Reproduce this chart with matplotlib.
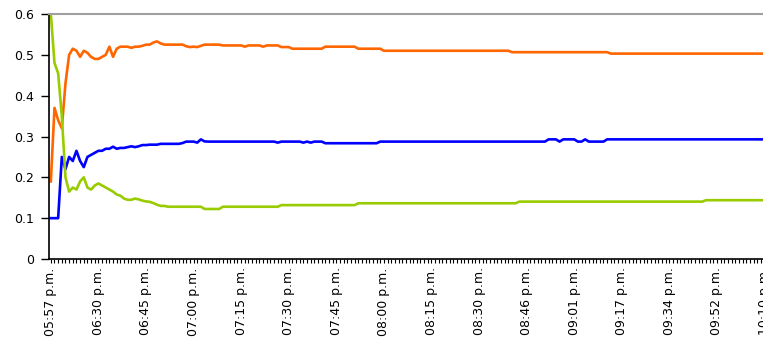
import matplotlib
matplotlib.use("Agg")
import matplotlib.pyplot as plt

# x labels, one every 13 readings
etiquetas = ["05:57 p.m.", "06:30 p.m.", "06:45 p.m.", "07:00 p.m.", "07:15 p.m.",
             "07:30 p.m.", "07:45 p.m.", "08:00 p.m.", "08:15 p.m.", "08:30 p.m.",
             "08:46 p.m.", "09:01 p.m.", "09:17 p.m.", "09:34 p.m.", "09:52 p.m.",
             "10:10 p.m."]
paso = 13

# serie naranja
naranja = [
    0.19, 0.37, 0.34, 0.32, 0.43, 0.50, 0.515, 0.51, 0.495, 0.51, 0.505, 0.495, 0.49,
    0.49, 0.495, 0.50, 0.52, 0.495, 0.515, 0.52, 0.52, 0.52, 0.517, 0.52, 0.52, 0.522,
    0.525, 0.525, 0.53, 0.533, 0.528, 0.525, 0.525, 0.525, 0.525, 0.525, 0.525, 0.521, 0.519,
    0.52, 0.519, 0.522, 0.525, 0.525, 0.525, 0.525, 0.525, 0.523, 0.523, 0.523, 0.523, 0.523,
    0.523, 0.520, 0.523, 0.523, 0.523, 0.523, 0.520, 0.523, 0.523, 0.523, 0.523, 0.519, 0.519,
    0.519, 0.515, 0.515, 0.515, 0.515, 0.515, 0.515, 0.515, 0.515, 0.515, 0.52, 0.52, 0.52,
    0.52, 0.52, 0.52, 0.52, 0.52, 0.52, 0.515, 0.515, 0.515, 0.515, 0.515, 0.515, 0.515,
    0.51, 0.51, 0.51, 0.51, 0.51, 0.51, 0.51, 0.51, 0.51, 0.51, 0.51, 0.51, 0.51,
    0.51, 0.51, 0.51, 0.51, 0.51, 0.51, 0.51, 0.51, 0.51, 0.51, 0.51, 0.51, 0.51,
    0.51, 0.51, 0.51, 0.51, 0.51, 0.51, 0.51, 0.51, 0.51, 0.5065, 0.5065, 0.5065, 0.5065,
    0.5065, 0.5065, 0.5065, 0.5065, 0.5065, 0.5065, 0.5065, 0.5065, 0.5065, 0.5065, 0.5065, 0.5065, 0.5065,
    0.5065, 0.5065, 0.5065, 0.5065, 0.5065, 0.5065, 0.5065, 0.5065, 0.5065, 0.5065, 0.503, 0.503, 0.503,
    0.503, 0.503, 0.503, 0.503, 0.503, 0.503, 0.503, 0.503, 0.503, 0.503, 0.503, 0.503, 0.503,
    0.503, 0.503, 0.503, 0.503, 0.503, 0.503, 0.503, 0.503, 0.503, 0.503, 0.503, 0.503, 0.503,
    0.503, 0.503, 0.503, 0.503, 0.503, 0.503, 0.503, 0.503, 0.503, 0.503, 0.503, 0.503, 0.503,
    0.503, 0.503, 0.503, 0.503, 0.503,
]

# serie azul
azul = [
    0.10, 0.10, 0.10, 0.25, 0.22, 0.25, 0.24, 0.265, 0.24, 0.225, 0.25, 0.255, 0.26,
    0.265, 0.265, 0.27, 0.27, 0.275, 0.27, 0.272, 0.272, 0.274, 0.276, 0.274, 0.276, 0.279,
    0.279, 0.28, 0.28, 0.28, 0.282, 0.282, 0.282, 0.282, 0.282, 0.282, 0.284, 0.2875, 0.2875,
    0.2875, 0.285, 0.293, 0.288, 0.2875, 0.2875, 0.2875, 0.2875, 0.2875, 0.2875, 0.2875, 0.2875, 0.2875,
    0.2875, 0.2875, 0.2875, 0.2875, 0.2875, 0.2875, 0.2875, 0.2875, 0.2875, 0.2875, 0.285, 0.2875, 0.2875,
    0.2875, 0.2875, 0.2875, 0.2875, 0.285, 0.2875, 0.285, 0.2875, 0.2875, 0.2875, 0.2835, 0.2835, 0.2835,
    0.2835, 0.2835, 0.2835, 0.2835, 0.2835, 0.2835, 0.2835, 0.2835, 0.2835, 0.2835, 0.2835, 0.2835, 0.2875,
    0.2875, 0.2875, 0.2875, 0.2875, 0.2875, 0.2875, 0.2875, 0.2875, 0.2875, 0.2875, 0.2875, 0.2875, 0.2875,
    0.2875, 0.2875, 0.2875, 0.2875, 0.2875, 0.2875, 0.2875, 0.2875, 0.2875, 0.2875, 0.2875, 0.2875, 0.2875,
    0.2875, 0.2875, 0.2875, 0.2875, 0.2875, 0.2875, 0.2875, 0.2875, 0.2875, 0.2875, 0.2875, 0.2875, 0.2875,
    0.2875, 0.2875, 0.2875, 0.2875, 0.2875, 0.2875, 0.293, 0.293, 0.293, 0.2875, 0.293, 0.293, 0.293,
    0.293, 0.2875, 0.2875, 0.293, 0.2875, 0.2875, 0.2875, 0.2875, 0.2875, 0.293, 0.293, 0.293, 0.293,
    0.293, 0.293, 0.293, 0.293, 0.293, 0.293, 0.293, 0.293, 0.293, 0.293, 0.293, 0.293, 0.293,
    0.293, 0.293, 0.293, 0.293, 0.293, 0.293, 0.293, 0.293, 0.293, 0.293, 0.293, 0.293, 0.293,
    0.293, 0.293, 0.293, 0.293, 0.293, 0.293, 0.293, 0.293, 0.293, 0.293, 0.293, 0.293, 0.293,
    0.293, 0.293, 0.293, 0.293, 0.293,
]

# serie verde
verde = [
    0.60, 0.48, 0.455, 0.35, 0.20, 0.165, 0.175, 0.17, 0.19, 0.20, 0.175, 0.17, 0.18,
    0.185, 0.18, 0.175, 0.17, 0.165, 0.158, 0.155, 0.148, 0.145, 0.145, 0.148, 0.146, 0.143,
    0.141, 0.14, 0.137, 0.133, 0.13, 0.13, 0.128, 0.128, 0.128, 0.128, 0.128, 0.128, 0.128,
    0.128, 0.128, 0.128, 0.1225, 0.1225, 0.1225, 0.1225, 0.1225, 0.128, 0.128, 0.128, 0.128, 0.128,
    0.128, 0.128, 0.128, 0.128, 0.128, 0.128, 0.128, 0.128, 0.128, 0.128, 0.128, 0.132, 0.132,
    0.132, 0.132, 0.132, 0.132, 0.132, 0.132, 0.132, 0.132, 0.132, 0.132, 0.132, 0.132, 0.132,
    0.132, 0.132, 0.132, 0.132, 0.132, 0.132, 0.1365, 0.1365, 0.1365, 0.1365, 0.1365, 0.1365, 0.1365,
    0.1365, 0.1365, 0.1365, 0.1365, 0.1365, 0.1365, 0.1365, 0.1365, 0.1365, 0.1365, 0.1365, 0.1365, 0.1365,
    0.1365, 0.1365, 0.1365, 0.1365, 0.1365, 0.1365, 0.1365, 0.1365, 0.1365, 0.1365, 0.1365, 0.1365, 0.1365,
    0.1365, 0.1365, 0.1365, 0.1365, 0.1365, 0.1365, 0.1365, 0.1365, 0.1365, 0.1365, 0.1365, 0.1405, 0.1405,
    0.1405, 0.1405, 0.1405, 0.1405, 0.1405, 0.1405, 0.1405, 0.1405, 0.1405, 0.1405, 0.1405, 0.1405, 0.1405,
    0.1405, 0.1405, 0.1405, 0.1405, 0.1405, 0.1405, 0.1405, 0.1405, 0.1405, 0.1405, 0.1405, 0.1405, 0.1405,
    0.1405, 0.1405, 0.1405, 0.1405, 0.1405, 0.1405, 0.1405, 0.1405, 0.1405, 0.1405, 0.1405, 0.1405, 0.1405,
    0.1405, 0.1405, 0.1405, 0.1405, 0.1405, 0.1405, 0.1405, 0.1405, 0.1405, 0.1405, 0.144, 0.144, 0.144,
    0.144, 0.144, 0.144, 0.144, 0.144, 0.144, 0.144, 0.144, 0.144, 0.144, 0.144, 0.144, 0.144,
    0.144, 0.144, 0.144, 0.144, 0.144,
]

n = len(naranja)
x = list(range(n))

plt.rcParams['font.family'] = ['DejaVu Sans']

fig = plt.figure(figsize=(7.63, 3.42), dpi=100)
# el eje se sale por la derecha, como en la captura original
ax = fig.add_axes([49/763, 83/342, 732/763, 245/342])

ax.plot(x, naranja, color="#FF6600", lw=1.9)
ax.plot(x, azul, color="#0000FF", lw=1.9)
ax.plot(x, verde, color="#99CC00", lw=1.9)

ax.set_xlim(-0.5, n - 0.5)
ax.set_ylim(0, 0.6)
ax.set_yticks([0, 0.1, 0.2, 0.3, 0.4, 0.5, 0.6])
ax.set_yticklabels(["0", "0.1", "0.2", "0.3", "0.4", "0.5", "0.6"])

ax.set_xticks([i * paso for i in range(len(etiquetas))])
ax.set_xticklabels(etiquetas, rotation=90)
ax.set_xticks(x, minor=True)

ax.tick_params(axis="y", direction="out", length=6, width=1, labelsize=9, pad=5)
ax.tick_params(axis="x", which="both", direction="out", length=3, width=0.8,
               labelsize=9, pad=3)

ax.spines["left"].set_color("black")
ax.spines["bottom"].set_color("black")
ax.spines["left"].set_linewidth(1.2)
ax.spines["bottom"].set_linewidth(1.2)
ax.spines["top"].set_color("#A0A0A0")
ax.spines["top"].set_linewidth(1.5)
ax.spines["right"].set_visible(False)

fig.savefig("out.png", dpi=100)
